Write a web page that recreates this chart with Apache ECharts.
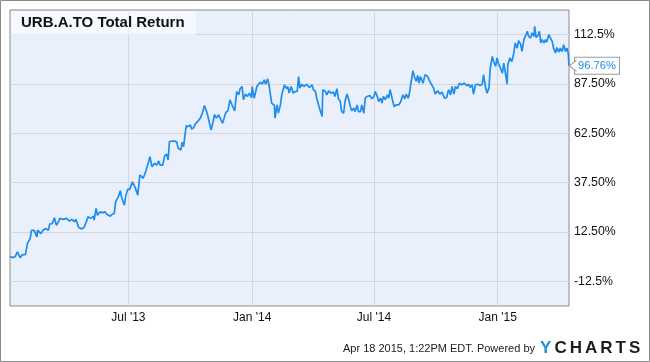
<!DOCTYPE html>
<html>
<head>
<meta charset="utf-8">
<script src="https://cdn.jsdelivr.net/npm/echarts@6/dist/echarts.min.js"></script>
<style>
html,body{margin:0;padding:0;background:#fff;}
#chart{width:650px;height:362px;}
</style>
</head>
<body>
<div id="chart"></div>
<script>
// Day offsets from 2013-01-01 (trading dates)
const dayOffsets = [5,6,10,13,16,20,23,28,31,35,37,41,45,46,51,54,58,62,64,68,71,74,77,79,84,89,93,97,101,103,107,112,115,119,121,125,129,130,133,135,139,142,146,149,154,157,160,162,166,169,171,175,177,180,183,187,191,195,198,203,207,211,213,216,220,223,226,228,232,235,238,240,242,246,250,253,255,259,261,263,265,267,270,273,275,278,281,284,288,291,294,298,301,304,307,309,312,315,317,321,323,326,329,332,336,339,342,345,347,350,352,355,358,361,364,365,368,372,374,377,380,383,385,388,390,394,398,399,402,404,407,409,413,416,418,420,423,426,429,432,434,436,439,442,446,450,454,456,459,461,465,469,470,474,476,479,482,486,488,491,493,496,498,501,503,506,508,511,513,516,518,521,523,526,528,531,533,536,540,543,546,548,551,553,556,558,560,563,566,568,570,573,576,579,583,586,589,592,594,597,599,601,604,606,609,611,613,615,619,622,626,629,632,635,637,641,644,647,651,654,657,660,662,665,667,670,673,677,680,684,687,689,692,694,697,700,704,707,709,712,714,717,719,722,724,727,729,731,734,737,739,741,744,745,748,751,754,756,759,761,764,766,769,771,774,776,779,781,784,785,787,790,792,794,796,799,801,803,806,808,811,813,816,818,821,823,826,828,831,833,835,836];
// Total return (%)
const totalReturn = [0,0.7,-0.5,0.2,2.4,-0.5,0.9,1.2,6.7,9.2,13.4,13.3,10.0,13.4,11.7,13.4,14.3,13.4,16.5,16.8,19.7,15.9,17.6,19.4,18.9,19.4,18.1,18.9,17.6,19.0,14.8,14.1,14.8,18.1,20.2,19.4,20.5,18.5,24.4,21.0,22.7,22.2,22.7,21.5,20.5,21.5,21.9,27.8,30.3,33.4,30.0,26.1,30.7,34.1,34.1,37.9,35.1,31.2,41.4,39.7,43.4,48.1,50.7,45.6,47.3,46.4,48.5,46.4,46.4,51.2,51.9,49.0,58.3,58.6,58.6,58.0,54.9,54.1,58.0,55.7,61.3,66.3,65.9,66.8,64.6,65.4,67.6,68.5,70.2,72.8,76.6,72.8,68.5,64.2,68.5,71.9,70.2,71.9,70.5,67.6,68.5,73.2,73.9,79.5,76.1,73.9,83.7,82.0,85.1,86.2,79.5,82.4,81.2,82.9,80.6,86.2,80.3,86.2,85.4,88.4,87.4,89.6,87.4,90.1,87.1,77.8,76.6,70.2,76.9,72.8,76.9,82.0,87.1,85.1,86.2,82.9,86.2,82.9,83.7,83.7,91.3,85.4,87.4,86.2,87.4,85.7,87.1,84.6,83.7,80.3,75.3,71.0,84.6,83.7,82.0,84.1,82.9,83.4,81.2,85.1,80.3,78.6,73.5,72.7,78.6,82.4,80.3,76.1,73.9,75.3,73.5,76.9,73.5,73.5,76.9,72.7,80.3,81.2,81.7,80.0,81.2,83.7,81.2,78.6,80.3,77.8,81.2,79.5,82.0,80.3,84.6,80.3,76.1,76.9,76.9,78.6,82.0,80.0,82.4,80.3,83.4,87.9,94.2,91.3,88.8,91.8,87.9,91.3,87.9,92.2,91.3,88.8,87.1,85.1,82.4,84.1,82.4,83.4,80.3,80.6,84.6,82.0,86.2,82.4,86.2,85.1,87.9,87.1,87.9,86.7,87.4,85.7,87.1,82.4,87.1,87.4,86.7,87.4,92.2,85.7,82.9,85.4,95.6,101.5,98.9,96.4,100.7,98.1,95.6,93.0,98.1,93.9,87.4,97.3,100.7,98.9,103.2,108.3,105.7,109.5,107.8,104.0,110.0,111.6,114.2,111.6,110.8,113.4,111.6,116.7,111.1,112.1,114.2,108.3,110.0,108.3,110.0,108.8,112.5,111.1,109.1,105.7,103.2,106.0,103.7,105.7,104.0,107.4,104.0,105.7,102.7,96.76];

const xTickDates = ['2013-07-01','2014-01-01','2014-07-01','2015-01-01'];
const xTickLabels = ["Jul '13","Jan '14","Jul '14","Jan '15"];
const yTickValues = [-12.5,12.5,37.5,62.5,87.5,112.5];
const yTickLabels = ['-12.5%','12.50%','37.50%','62.50%','87.50%','112.5%'];
const yRange = [-25,125];
const xRangeDays = [5,836];
const titleText = 'URB.A.TO Total Return';
const footerText = 'Apr 18 2015, 1:22PM EDT. Powered by';
const endLabelText = '96.76%';

const DAY = 86400000;
const BASE = Date.UTC(2013,0,1);
function dayToTs(d){ return BASE + d*DAY; }
function parseDate(s){ const p = s.split('-').map(Number); return Date.UTC(p[0],p[1]-1,p[2]); }

const seriesData = dayOffsets.map((d,i)=>[dayToTs(d), totalReturn[i]]);
const xTickTs = xTickDates.map(parseDate);
const lastPoint = seriesData[seriesData.length-1];

const FONT = 'Liberation Sans, Arial, Helvetica, sans-serif';
const chart = echarts.init(document.getElementById('chart'), null, {renderer:'canvas'});

const logoLetters = ['Y','C','H','A','R','T','S'];
const logoX = [540,554.5,569.8,585,600.3,615.6,629];

const graphics = [
  {type:'rect', shape:{x:0.5,y:0.5,width:649,height:361}, style:{fill:'none',stroke:'#8a8a8a',lineWidth:1}, z:20},
  {type:'rect', shape:{x:11,y:11,width:185,height:24}, style:{fill:'rgba(255,255,255,0.55)'}, z:10},
  {type:'text', x:21, y:23, style:{text:titleText, font:'bold 15px '+FONT, fill:'#111', textVerticalAlign:'middle'}, z:11},
  {type:'text', x:535, y:349, style:{text:footerText, font:'11px '+FONT, fill:'#222', textAlign:'right', textVerticalAlign:'middle'}, z:11}
];
logoLetters.forEach((ch,i)=>{
  graphics.push({type:'text', x:logoX[i], y:348, style:{text:ch, font:'bold 17px '+FONT, fill: i===0 ? '#1f8fd8' : '#1d1d1d', textVerticalAlign:'middle'}, z:11});
});

chart.setOption({
  animation:false,
  backgroundColor:'#ffffff',
  grid:{left:10,right:81,top:10,bottom:56,show:true,backgroundColor:'#e9f0fc',borderColor:'#8a8a8a',borderWidth:1,outerBoundsMode:'none'},
  xAxis:{
    type:'value',
    min:dayToTs(xRangeDays[0]),
    max:dayToTs(xRangeDays[1]),
    axisLine:{show:false},
    axisTick:{show:false, customValues:xTickTs},
    axisLabel:{customValues:xTickTs, margin:6, color:'#111', fontSize:12, fontFamily:FONT,
      formatter:function(v){ const i = xTickTs.indexOf(v); return i>=0 ? xTickLabels[i] : ''; }},
    splitLine:{show:true, lineStyle:{color:'#d6d6d6', width:1}}
  },
  yAxis:{
    type:'value',
    position:'right',
    min:yRange[0], max:yRange[1],
    axisLine:{show:false},
    axisTick:{show:false, customValues:yTickValues},
    axisLabel:{customValues:yTickValues, margin:5, color:'#111', fontSize:12.3, fontFamily:FONT,
      formatter:function(v){ const i = yTickValues.indexOf(v); return i>=0 ? yTickLabels[i] : ''; }},
    splitLine:{show:true, lineStyle:{color:'#d6d6d6', width:1}}
  },
  series:[{
    type:'line',
    data:seriesData,
    showSymbol:false,
    symbol:'none',
    lineStyle:{color:'#1f8ded', width:1.7},
    itemStyle:{color:'#1f8ded'},
    endLabel:{show:true, formatter:endLabelText, distance:6, color:'#1f8ded', fontSize:11.2, fontFamily:FONT,
      backgroundColor:'#ffffff', borderColor:'#9a9a9a', borderWidth:1, padding:[3,3,2,3]},
    markPoint:{
      silent:true,
      symbol:'path://M7,0 L0,5 L7,10',
      symbolSize:[7,11],
      symbolOffset:[4,0],
      symbolKeepAspect:false,
      itemStyle:{color:'#ffffff', borderColor:'#9a9a9a', borderWidth:1},
      label:{show:false},
      data:[{coord:lastPoint}]
    }
  }],
  graphic:graphics
});
</script>
</body>
</html>
